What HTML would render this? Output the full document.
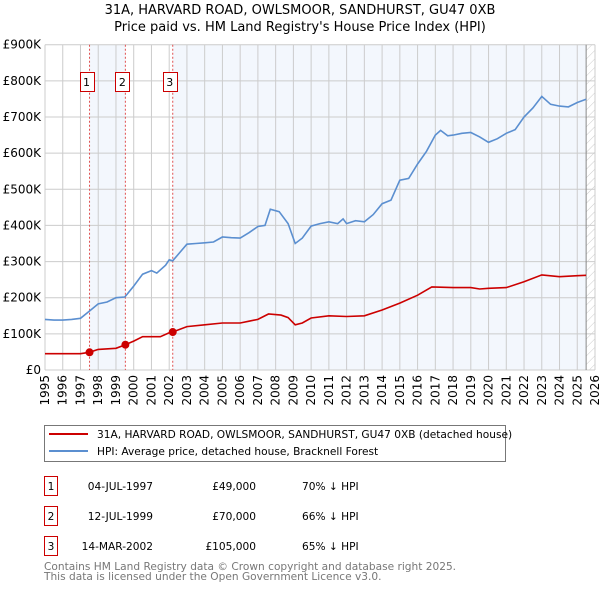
<!DOCTYPE html>
<html><head><meta charset="utf-8"><style>
body{margin:0;background:#fff;width:600px;height:590px;overflow:hidden;font-family:"DejaVu Sans","Liberation Sans",sans-serif}
svg{position:absolute;left:0;top:0}
</style></head><body>
<svg id="c" width="600" height="590">
<defs><pattern id="hatch" width="6" height="6" patternUnits="userSpaceOnUse" patternTransform="rotate(45)"><line x1="0" y1="0" x2="0" y2="6" stroke="#ccc" stroke-width="1"/></pattern></defs>
<text x="300" y="14" text-anchor="middle" font-size="13">31A, HARVARD ROAD, OWLSMOOR, SANDHURST, GU47 0XB</text>
<text x="300" y="31" text-anchor="middle" font-size="13">Price paid vs. HM Land Registry's House Price Index (HPI)</text>
<g id="plot"></g>
<g>
<rect x="44.5" y="425.5" width="461" height="36" fill="#fff" stroke="#777"/>
<line x1="49" y1="434" x2="88" y2="434" stroke="#cc0000" stroke-width="2"/>
<text x="97" y="438" font-size="10.6">31A, HARVARD ROAD, OWLSMOOR, SANDHURST, GU47 0XB (detached house)</text>
<line x1="49" y1="451" x2="88" y2="451" stroke="#5b8fd0" stroke-width="2"/>
<text x="97" y="455" font-size="10.6">HPI: Average price, detached house, Bracknell Forest</text>
</g>
<g font-size="10.6">
<rect x="44.5" y="476.5" width="13" height="19" fill="#fff" stroke="#cc0000"/><text x="51" y="490" text-anchor="middle">1</text>
<text x="153" y="490" text-anchor="end">04-JUL-1997</text><text x="256" y="490" text-anchor="end">£49,000</text><text x="302" y="490">70% ↓ HPI</text>
<rect x="44.5" y="506.5" width="13" height="19" fill="#fff" stroke="#cc0000"/><text x="51" y="520" text-anchor="middle">2</text>
<text x="153" y="520" text-anchor="end">12-JUL-1999</text><text x="256" y="520" text-anchor="end">£70,000</text><text x="302" y="520">66% ↓ HPI</text>
<rect x="44.5" y="536.5" width="13" height="19" fill="#fff" stroke="#cc0000"/><text x="51" y="550" text-anchor="middle">3</text>
<text x="153" y="550" text-anchor="end">14-MAR-2002</text><text x="256" y="550" text-anchor="end">£105,000</text><text x="302" y="550">65% ↓ HPI</text>
</g>
<text x="44" y="570" font-size="10.6" fill="#777">Contains HM Land Registry data © Crown copyright and database right 2025.</text>
<text x="44" y="580" font-size="10.6" fill="#777">This data is licensed under the Open Government Licence v3.0.</text>
</svg>
<script>
const yTicks=[0,100,200,300,400,500,600,700,800,900];
const yTickLabels=["£0","£100K","£200K","£300K","£400K","£500K","£600K","£700K","£800K","£900K"];
const xYears=[1995,1996,1997,1998,1999,2000,2001,2002,2003,2004,2005,2006,2007,2008,2009,2010,2011,2012,2013,2014,2015,2016,2017,2018,2019,2020,2021,2022,2023,2024,2025,2026];
const hpiT=[1995,1995.5,1996,1996.5,1997,1997.5,1998,1998.5,1999,1999.5,2000,2000.5,2001,2001.3,2001.8,2002,2002.2,2002.6,2003,2003.5,2004,2004.5,2005,2005.5,2006,2006.5,2007,2007.4,2007.7,2008.2,2008.7,2009.1,2009.5,2010,2010.5,2011,2011.5,2011.8,2012,2012.5,2013,2013.5,2014,2014.5,2015,2015.5,2016,2016.5,2017,2017.3,2017.7,2018,2018.5,2019,2019.5,2020,2020.5,2021,2021.5,2022,2022.5,2023,2023.5,2024,2024.5,2025,2025.5];
const hpiV=[140,138,138,140,143,163,183,188,200,202,232,265,275,268,290,305,302,325,348,350,352,354,368,366,365,380,397,400,445,438,405,350,365,398,405,410,405,418,405,413,410,430,460,470,525,530,570,605,650,663,648,650,655,657,645,630,640,655,665,700,725,757,735,730,728,740,749];
const redT=[1995,1997,1997.5,1998,1999,1999.53,2000,2000.5,2001.5,2002,2002.2,2003,2004,2005,2006,2006.5,2007,2007.6,2008.3,2008.7,2009.1,2009.5,2010,2011,2012,2013,2014,2015,2016,2016.8,2018,2019,2019.5,2020,2021,2022,2023,2024,2025,2025.5];
const redV=[45,45,49,57,60,70,80,92,92,103,105,120,125,130,130,135,140,155,152,145,125,130,144,150,148,150,166,185,207,230,228,228,224,226,228,244,263,258,261,262];
const saleT=[1997.51,1999.53,2002.2];
const saleV=[49,70,105];
const saleLabels=["1","2","3"];
const X0=45,X1=595,Y0=370,Y1=44.7;
const sx=t=>X0+(t-1995)/(2026-1995)*(X1-X0);
const sy=v=>Y0-v/900*(Y0-Y1);
const NS="http://www.w3.org/2000/svg";
const g=document.getElementById('plot');
function mk(tag,at){const e=document.createElementNS(NS,tag);for(const k in at)e.setAttribute(k,at[k]);g.appendChild(e);return e;}
let e;
e=mk('rect',{x:X0,y:Y1,width:X1-X0,height:Y0-Y1,fill:'#fff'});


e=mk('rect',{x:sx(saleT[0]),y:Y1,width:sx(saleT[1])-sx(saleT[0]),height:Y0-Y1,fill:'#eef3fc',opacity:0.7});


e=mk('rect',{x:sx(saleT[2]),y:Y1,width:sx(2025.5)-sx(saleT[2]),height:Y0-Y1,fill:'#eef3fc',opacity:0.7});


e=mk('rect',{x:sx(2025.5),y:Y1,width:X1-sx(2025.5),height:Y0-Y1,fill:'url(#hatch)'});


xYears.forEach(y=>{e=mk('line',{x1:sx(y),x2:sx(y),y1:Y1,y2:Y0,stroke:'#ccc','stroke-width':1});


e=mk('text',{x:0,y:0,'font-size':12,'text-anchor':'end',transform:`translate(${sx(y)+4},${Y0+5}) rotate(-90)`});e.textContent=y;

});
yTicks.forEach((v,i)=>{e=mk('line',{x1:X0,x2:X1,y1:sy(v),y2:sy(v),stroke:'#ccc','stroke-width':1});


e=mk('text',{x:41,y:sy(v)+4,'font-size':12,'text-anchor':'end'});e.textContent=yTickLabels[i];

});
e=mk('line',{x1:sx(2025.5),x2:sx(2025.5),y1:Y1,y2:Y0,stroke:'#888','stroke-width':1});


saleT.forEach((t,i)=>{e=mk('line',{x1:sx(t),x2:sx(t),y1:Y1,y2:Y0,stroke:'#e05050','stroke-width':1,'stroke-dasharray':'2,2'});


e=mk('rect',{x:Math.round(sx(t)-10)+0.5,y:72.5,width:14,height:19,fill:'#fff',stroke:'#cc0000'});


e=mk('text',{x:sx(t)-3,y:86,'font-size':11,'text-anchor':'middle'});e.textContent=saleLabels[i];

});
const path=(T,V)=>T.map((t,i)=>(i?'L':'M')+sx(t).toFixed(1)+','+sy(V[i]).toFixed(1)).join('');
e=mk('path',{d:path(hpiT,hpiV),fill:'none',stroke:'#5b8fd0','stroke-width':1.6});


e=mk('path',{d:path(redT,redV),fill:'none',stroke:'#cc0000','stroke-width':1.6});


saleT.forEach((t,i)=>{e=mk('circle',{cx:sx(t),cy:sy(saleV[i]),r:4,fill:'#cc0000'});

});
</script>
</body></html>
